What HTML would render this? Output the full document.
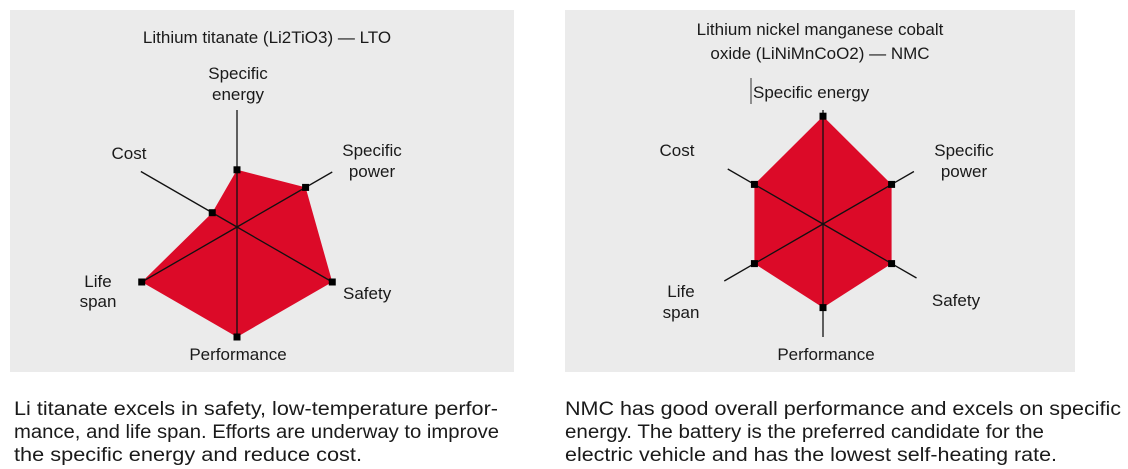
<!DOCTYPE html>
<html><head><meta charset="utf-8"><style>
html,body{margin:0;padding:0;background:#fff;}
svg{display:block;font-family:"Liberation Sans",sans-serif;}
</style></head><body>
<svg id="c" width="1128" height="469" viewBox="0 0 1128 469" xmlns="http://www.w3.org/2000/svg">
<rect x="10" y="10" width="504" height="362" fill="#ebebeb"/>
<rect x="565" y="10" width="510" height="362" fill="#ebebeb"/>
<g font-size="17" fill="#1a1a1a">
<text x="267" y="43" text-anchor="middle">Lithium titanate (Li2TiO3) — LTO</text>
<text x="820" y="35" text-anchor="middle">Lithium nickel manganese cobalt</text>
<text x="820" y="59" text-anchor="middle">oxide (LiNiMnCoO2) — NMC</text>
<g>
<text x="238" y="79" text-anchor="middle">Specific</text><text x="238" y="100" text-anchor="middle">energy</text>
<text x="129" y="159" text-anchor="middle">Cost</text>
<text x="372" y="156" text-anchor="middle">Specific</text><text x="372" y="177" text-anchor="middle">power</text>
<text x="98" y="287" text-anchor="middle">Life</text><text x="98" y="307" text-anchor="middle">span</text>
<text x="343" y="299">Safety</text>
<text x="238" y="360" text-anchor="middle">Performance</text>
</g>
<g>
<line x1="751" y1="78" x2="751" y2="104" stroke="#333" stroke-width="1"/>
<text x="753" y="98">Specific energy</text>
<text x="677" y="156" text-anchor="middle">Cost</text>
<text x="964" y="156" text-anchor="middle">Specific</text><text x="964" y="177" text-anchor="middle">power</text>
<text x="681" y="297" text-anchor="middle">Life</text><text x="681" y="318" text-anchor="middle">span</text>
<text x="956" y="306" text-anchor="middle">Safety</text>
<text x="826" y="360" text-anchor="middle">Performance</text>
</g>
</g>
<g font-size="19" fill="#1a1a1a">
<text x="14" y="415" textLength="484" lengthAdjust="spacingAndGlyphs">Li titanate excels in safety, low-temperature perfor-</text>
<text x="14" y="438" textLength="485" lengthAdjust="spacingAndGlyphs">mance, and life span. Efforts are underway to improve</text>
<text x="14" y="461" textLength="348" lengthAdjust="spacingAndGlyphs">the specific energy and reduce cost.</text>
<text x="565" y="415" textLength="556" lengthAdjust="spacingAndGlyphs">NMC has good overall performance and excels on specific</text>
<text x="565" y="438" textLength="479" lengthAdjust="spacingAndGlyphs">energy. The battery is the preferred candidate for the</text>
<text x="565" y="461" textLength="492" lengthAdjust="spacingAndGlyphs">electric vehicle and has the lowest self-heating rate.</text>
</g>
</svg>
<script>
const axes = ["Specific energy","Specific power","Safety","Performance","Life span","Cost"];
const ltoValues = [2.6, 3.6, 5.0, 5.0, 5.0, 1.3];
const nmcValues = [4.9, 3.6, 3.6, 3.8, 3.6, 3.6];
const maxValue = 5;

const svg = document.getElementById('c');
const NS = 'http://www.w3.org/2000/svg';
function mk(tag, attrs, parent){
  const e = document.createElementNS(NS, tag);
  for (const k in attrs) e.setAttribute(k, attrs[k]);
  parent.appendChild(e);
  return e;
}
function drawRadar(prefix, cx, cy, R, spokeLens, values){
  const g = mk('g', {}, svg);
  
  
  const angle = i => (-90 + i * 60) * Math.PI / 180;
  const pt = (i, r) => [cx + r * Math.cos(angle(i)), cy + r * Math.sin(angle(i))];
  const pts = values.map((v, i) => pt(i, v / maxValue * R));
  const poly = mk('polygon', {points: pts.map(p => p.join(',')).join(' '), fill: '#dc0a28'}, g);
  
  
  axes.forEach((a, i) => {
    const e = pt(i, spokeLens[i]);
    const l = mk('line', {x1: cx, y1: cy, x2: e[0], y2: e[1], stroke: '#111', 'stroke-width': 1.3}, g);
    
    
  });
  pts.forEach((p, i) => {
    const m = mk('rect', {x: p[0] - 3.5, y: p[1] - 3.5, width: 7, height: 7, fill: '#000'}, g);
    
    
  });
}
drawRadar('lto', 237, 227, 110, [117, 110, 110, 111, 110, 111], ltoValues);
drawRadar('nmc', 823, 224, 110, [114, 105, 108, 113, 114, 110], nmcValues);
</script>
</body></html>
